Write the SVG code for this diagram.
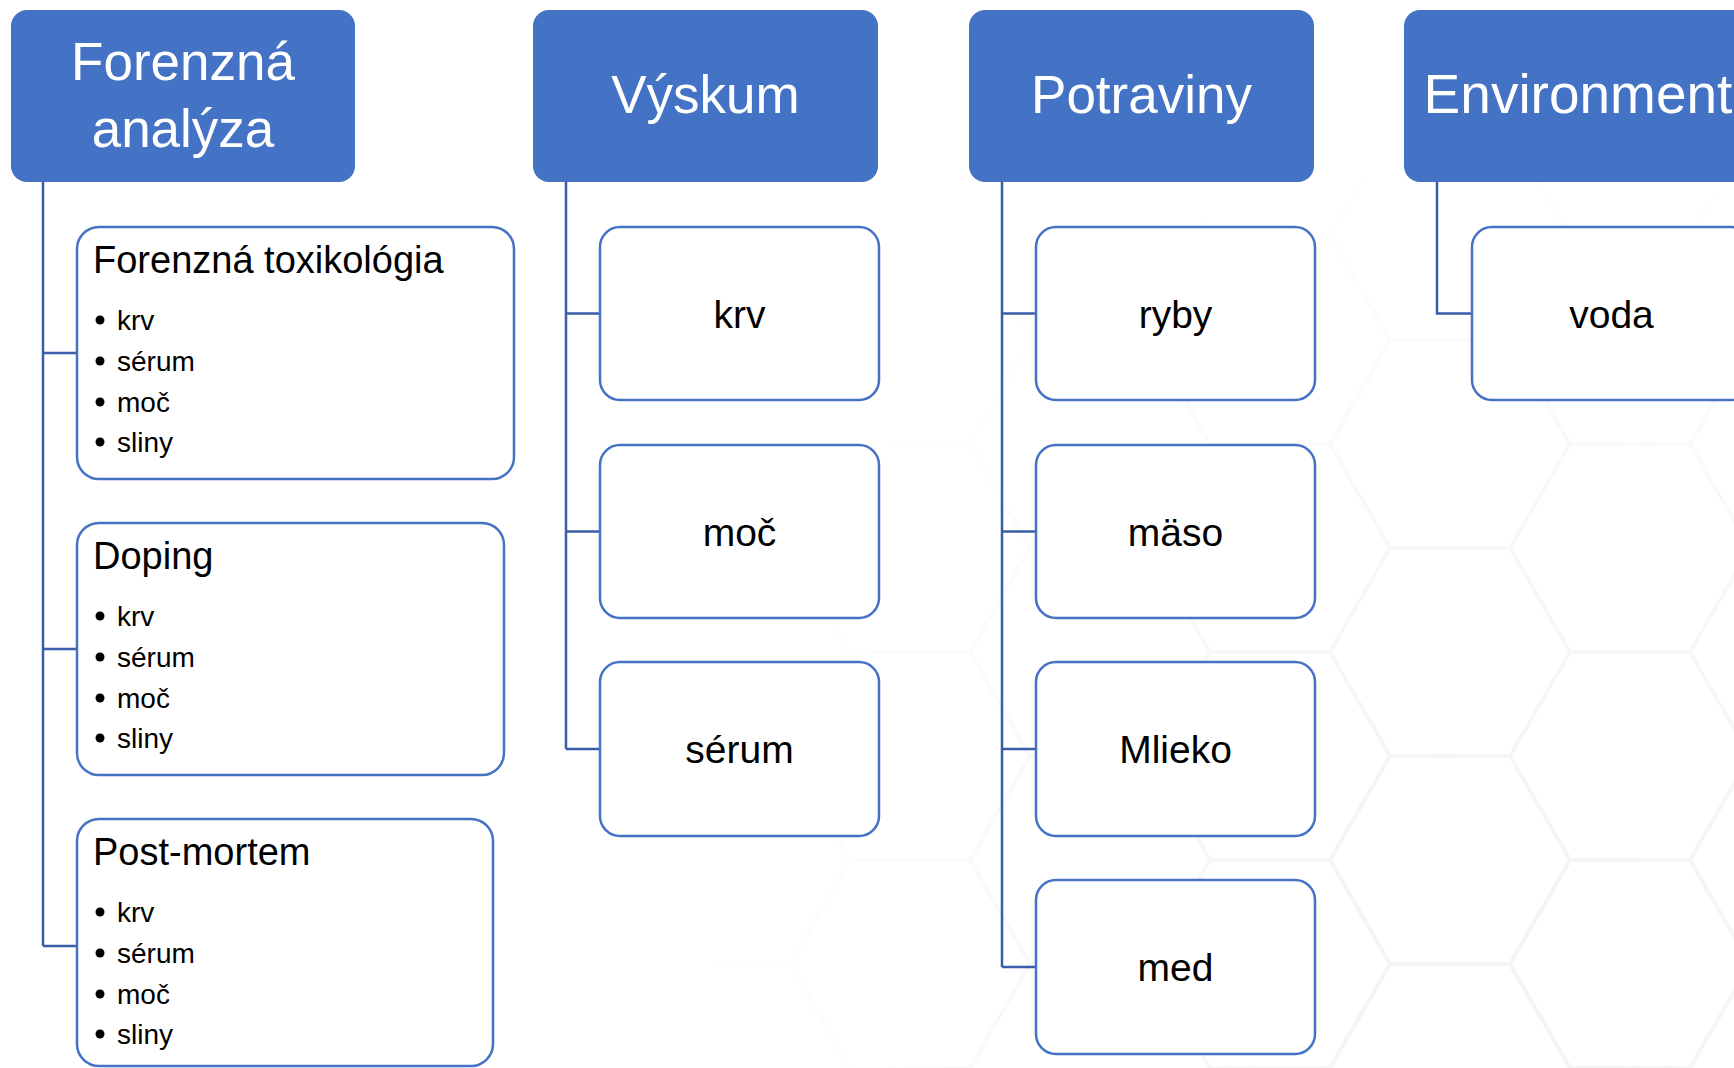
<svg xmlns="http://www.w3.org/2000/svg" width="1734" height="1068" viewBox="0 0 1734 1068">
  <defs>
    <style>
      .hdr{fill:#4472C4;}
      .hdrt{fill:#ffffff;font-family:"Liberation Sans",Arial,sans-serif;font-size:53px;text-anchor:middle;}
      .box{fill:#ffffff;stroke:#4472C4;stroke-width:2.5;}
      .lbl{fill:#000000;font-family:"Liberation Sans",Arial,sans-serif;font-size:39px;text-anchor:middle;}
      .ttl{fill:#000000;font-family:"Liberation Sans",Arial,sans-serif;font-size:38px;}
      .itm{fill:#000000;font-family:"Liberation Sans",Arial,sans-serif;font-size:28px;}
      .dot{fill:#000000;}
      .con{fill:none;stroke:#3A5DA8;stroke-width:2.5;}
    </style>
    <pattern id="hex" width="360" height="208" patternUnits="userSpaceOnUse" patternTransform="translate(70,28)">
      <path d="M60,0 H180 L240,104 L180,208 H60 L0,104 Z M240,104 H360" fill="none" stroke="#e9e9eb" stroke-width="4"/>
    </pattern>
    <radialGradient id="fade" gradientUnits="userSpaceOnUse" cx="1500" cy="950" r="900">
      <stop offset="0" stop-color="#fff" stop-opacity="0.9"/>
      <stop offset="0.5" stop-color="#fff" stop-opacity="0.5"/>
      <stop offset="0.9" stop-color="#fff" stop-opacity="0"/>
    </radialGradient>
    <mask id="hexmask">
      <rect x="0" y="0" width="1734" height="1068" fill="url(#fade)"/>
    </mask>
  </defs>

  <rect x="0" y="0" width="1734" height="1068" fill="#ffffff"/>
  <rect x="0" y="0" width="1734" height="1068" fill="url(#hex)" mask="url(#hexmask)" opacity="0.6"/>

  <g id="connectors">
    <path class="con" d="M43,182 V946 M43,353 H77 M43,649 H77 M43,946 H77"/>
    <path class="con" d="M566,182 V749 M566,313.5 H600 M566,531.5 H600 M566,749 H600"/>
    <path class="con" d="M1002,182 V967 M1002,313.5 H1036 M1002,531.5 H1036 M1002,749 H1036 M1002,967 H1036"/>
    <path class="con" d="M1437,182 V313.5 H1472"/>
  </g>

  <g id="hdr-forenzna">
    <rect class="hdr" x="11" y="10" width="344" height="172" rx="16"/>
    <text class="hdrt" x="183" y="80">Forenzná</text>
    <text class="hdrt" x="183" y="147">analýza</text>
  </g>
  <g id="hdr-vyskum">
    <rect class="hdr" x="533" y="10" width="345" height="172" rx="16"/>
    <text class="hdrt" x="705.5" y="113">Výskum</text>
  </g>
  <g id="hdr-potraviny">
    <rect class="hdr" x="969" y="10" width="345" height="172" rx="16"/>
    <text class="hdrt" x="1141.5" y="113">Potraviny</text>
  </g>
  <g id="hdr-environment">
    <rect class="hdr" x="1404" y="10" width="345" height="172" rx="16"/>
    <text class="hdrt" x="1578" y="113" style="font-size:55px">Environment</text>
  </g>

  <g id="box-toxikologia">
    <rect class="box" x="77" y="227" width="437" height="252" rx="22"/>
    <text class="ttl" x="93" y="273">Forenzná toxikológia</text>
    <circle class="dot" cx="100" cy="320" r="4.5"/>
    <circle class="dot" cx="100" cy="361" r="4.5"/>
    <circle class="dot" cx="100" cy="402" r="4.5"/>
    <circle class="dot" cx="100" cy="442" r="4.5"/>
    <text class="itm" x="117" y="330">krv</text>
    <text class="itm" x="117" y="371">sérum</text>
    <text class="itm" x="117" y="412">moč</text>
    <text class="itm" x="117" y="452">sliny</text>
  </g>
  <g id="box-doping">
    <rect class="box" x="77" y="523" width="427" height="252" rx="22"/>
    <text class="ttl" x="93" y="569">Doping</text>
    <circle class="dot" cx="100" cy="616" r="4.5"/>
    <circle class="dot" cx="100" cy="657" r="4.5"/>
    <circle class="dot" cx="100" cy="698" r="4.5"/>
    <circle class="dot" cx="100" cy="738" r="4.5"/>
    <text class="itm" x="117" y="626">krv</text>
    <text class="itm" x="117" y="667">sérum</text>
    <text class="itm" x="117" y="708">moč</text>
    <text class="itm" x="117" y="748">sliny</text>
  </g>
  <g id="box-postmortem">
    <rect class="box" x="77" y="819" width="416" height="247" rx="22"/>
    <text class="ttl" x="93" y="865">Post-mortem</text>
    <circle class="dot" cx="100" cy="912" r="4.5"/>
    <circle class="dot" cx="100" cy="953" r="4.5"/>
    <circle class="dot" cx="100" cy="994" r="4.5"/>
    <circle class="dot" cx="100" cy="1034" r="4.5"/>
    <text class="itm" x="117" y="922">krv</text>
    <text class="itm" x="117" y="963">sérum</text>
    <text class="itm" x="117" y="1004">moč</text>
    <text class="itm" x="117" y="1044">sliny</text>
  </g>

  <g id="box-v-krv">
    <rect class="box" x="600" y="227" width="279" height="173" rx="20"/>
    <text class="lbl" x="739.5" y="327.5">krv</text>
  </g>
  <g id="box-v-moc">
    <rect class="box" x="600" y="445" width="279" height="173" rx="20"/>
    <text class="lbl" x="739.5" y="545.5">moč</text>
  </g>
  <g id="box-v-serum">
    <rect class="box" x="600" y="662" width="279" height="174" rx="20"/>
    <text class="lbl" x="739.5" y="763">sérum</text>
  </g>

  <g id="box-p-ryby">
    <rect class="box" x="1036" y="227" width="279" height="173" rx="20"/>
    <text class="lbl" x="1175.5" y="327.5">ryby</text>
  </g>
  <g id="box-p-maso">
    <rect class="box" x="1036" y="445" width="279" height="173" rx="20"/>
    <text class="lbl" x="1175.5" y="545.5">mäso</text>
  </g>
  <g id="box-p-mlieko">
    <rect class="box" x="1036" y="662" width="279" height="174" rx="20"/>
    <text class="lbl" x="1175.5" y="763">Mlieko</text>
  </g>
  <g id="box-p-med">
    <rect class="box" x="1036" y="880" width="279" height="174" rx="20"/>
    <text class="lbl" x="1175.5" y="981">med</text>
  </g>

  <g id="box-e-voda">
    <rect class="box" x="1472" y="227" width="279" height="173" rx="20"/>
    <text class="lbl" x="1611.5" y="327.5">voda</text>
  </g>
</svg>
